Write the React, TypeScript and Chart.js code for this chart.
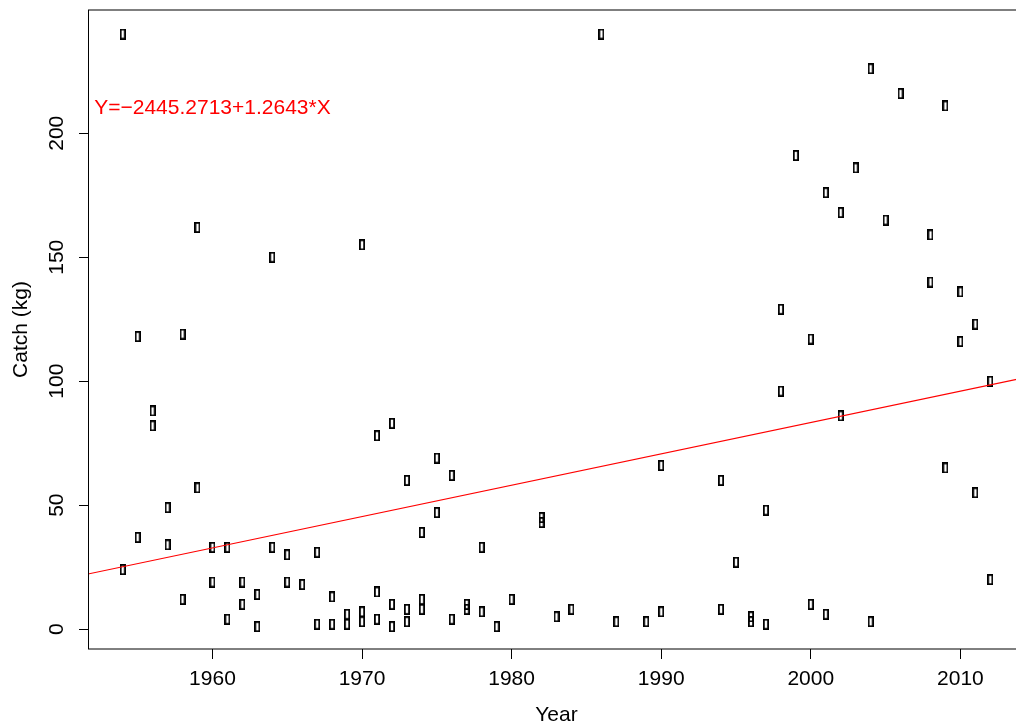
import React, { useEffect, useRef } from "react";
import { Chart, registerables } from "chart.js";

Chart.register(...registerables);

// ---- data ----
const years: number[] = [
  1954, 1954, 1955, 1955, 1956, 1956, 1957, 1957, 1958, 1958,
  1959, 1959, 1960, 1960, 1961, 1961, 1962, 1962, 1963, 1963,
  1964, 1964, 1965, 1965, 1966, 1967, 1967, 1968, 1968, 1969, 1969,
  1970, 1970, 1970, 1971, 1971, 1971, 1972, 1972, 1972,
  1973, 1973, 1973, 1974, 1974, 1974, 1975, 1975, 1976, 1976,
  1977, 1977, 1978, 1978, 1979, 1980, 1982, 1982, 1983, 1984,
  1986, 1987, 1989, 1990, 1990, 1994, 1994, 1995, 1996, 1996,
  1997, 1997, 1998, 1998, 1999, 2000, 2000, 2001, 2001, 2002, 2002,
  2003, 2004, 2004, 2005, 2006, 2008, 2008, 2009, 2009,
  2010, 2010, 2011, 2011, 2012, 2012,
];
const catchKg: number[] = [
  240, 24, 118, 37, 88, 82, 49, 34, 119, 12,
  162, 57, 33, 19, 33, 4, 19, 10, 14, 1,
  150, 33, 30, 19, 18, 31, 2, 13, 2, 6, 2,
  155, 7, 3, 78, 15, 4, 83, 10, 1,
  60, 8, 3, 39, 12, 8, 69, 47, 62, 4,
  10, 8, 33, 7, 1, 12, 45, 43, 5, 8,
  240, 3, 3, 66, 7, 60, 8, 27, 5, 3,
  48, 2, 129, 96, 191, 117, 10, 176, 6, 168, 86,
  186, 226, 3, 165, 216, 159, 140, 211, 65,
  136, 116, 123, 55, 100, 20,
];
const xTicks: number[] = [1960, 1970, 1980, 1990, 2000, 2010];
const yTicks: number[] = [0, 50, 100, 150, 200];
const intercept = -2445.2713;
const slope = 1.2643;
const eqLabel = "Y=\u22122445.2713+1.2643*X";
const eqPos = { x: 1960, y: 210 };
const xTitle = "Year";
const yTitle = "Catch (kg)";

const X_MIN = 1951.68;
const X_MAX = 2014.32;
const Y_MIN = -8;
const Y_MAX = 249.7;

const FAMILY = "'Liberation Sans', Arial, Helvetica, sans-serif";
const FONT = { family: FAMILY, size: 21 };

function makeMarker(): HTMLCanvasElement {
  const c = document.createElement("canvas");
  c.width = 6;
  c.height = 11;
  const g = c.getContext("2d")!;
  g.strokeStyle = "#000";
  g.lineWidth = 1.8;
  g.strokeRect(0.9, 0.9, 4.2, 9.2);
  return c;
}

const boxPlugin = {
  id: "rbox",
  afterDraw(chart: any) {
    const { ctx, chartArea } = chart;
    ctx.save();
    ctx.strokeStyle = "#000";
    ctx.lineWidth = 1;
    const l = Math.round(chartArea.left) + 0.5;
    ctx.strokeRect(l, chartArea.top, chartArea.right - l, chartArea.bottom - chartArea.top);
    ctx.restore();
  },
};

const eqPlugin = {
  id: "eqText",
  afterDatasetsDraw(chart: any) {
    const { ctx, scales } = chart;
    ctx.save();
    ctx.fillStyle = "#ff0000";
    ctx.font = `21px ${FAMILY}`;
    ctx.textAlign = "center";
    ctx.textBaseline = "middle";
    ctx.fillText(eqLabel, scales.x.getPixelForValue(eqPos.x), scales.y.getPixelForValue(eqPos.y));
    ctx.restore();
  },
};

const zeroPad = (s: any) => {
  s.paddingTop = 0;
  s.paddingBottom = 0;
  s.paddingLeft = 0;
  s.paddingRight = 0;
};

export default function App() {
  const ref = useRef<HTMLCanvasElement | null>(null);
  useEffect(() => {
    if (!ref.current) return;
    const points = years.map((yr, i) => ({ x: yr, y: catchKg[i] }));
    const line = [X_MIN, X_MAX].map((x) => ({ x, y: intercept + slope * x }));
    const chart = new Chart(ref.current, {
      type: "scatter",
      data: {
        datasets: [
          {
            type: "line",
            data: line,
            borderColor: "#ff0000",
            borderWidth: 1.2,
            pointRadius: 0,
            fill: false,
            order: 0,
          } as any,
          {
            type: "scatter",
            data: points,
            pointStyle: makeMarker(),
            pointRadius: 5,
            order: 1,
          } as any,
        ],
      },
      options: {
        animation: false,
        responsive: false,
        devicePixelRatio: 1,
        layout: { padding: { top: 10, right: 15, left: 0, bottom: 0 } },
        plugins: { legend: { display: false }, tooltip: { enabled: false } },
        scales: {
          x: {
            type: "linear",
            min: X_MIN,
            max: X_MAX,
            afterBuildTicks: (s: any) => {
              s.ticks = xTicks.map((v) => ({ value: v }));
            },
            afterFit: (s: any) => {
              s.height = 77;
              zeroPad(s);
            },
            grid: { display: true, drawOnChartArea: false, drawTicks: true, tickLength: 10, color: "#000", lineWidth: 1 },
            border: { display: false },
            ticks: {
              font: FONT,
              color: "#000",
              padding: 8,
              maxRotation: 0,
              autoSkip: false,
              callback: (v: any) => String(v),
            },
            title: { display: true, text: xTitle, font: FONT, color: "#000", padding: { top: 0, bottom: -2 } },
          },
          y: {
            type: "linear",
            min: Y_MIN,
            max: Y_MAX,
            afterBuildTicks: (s: any) => {
              s.ticks = yTicks.map((v) => ({ value: v }));
            },
            afterFit: (s: any) => {
              s.width = 88;
              zeroPad(s);
            },
            grid: { display: true, drawOnChartArea: false, drawTicks: true, tickLength: 9, color: "#000", lineWidth: 1 },
            border: { display: false },
            ticks: {
              font: FONT,
              color: "#000",
              padding: 4.5,
              minRotation: 90,
              maxRotation: 90,
              crossAlign: "center",
              autoSkip: false,
              callback: (v: any) => String(v),
            },
            title: { display: true, text: yTitle, font: FONT, color: "#000", padding: { top: 9, bottom: 0 } },
          },
        },
      } as any,
      plugins: [boxPlugin, eqPlugin],
    });
    return () => chart.destroy();
  }, []);
  return (
    <div
      style={{
        position: "fixed",
        left: 0,
        top: 0,
        width: 1016,
        height: 726,
        overflow: "hidden",
        background: "#fff",
      }}
    >
      <canvas ref={ref} width={1040} height={726} style={{ display: "block", width: 1040, height: 726 }} />
    </div>
  );
}
